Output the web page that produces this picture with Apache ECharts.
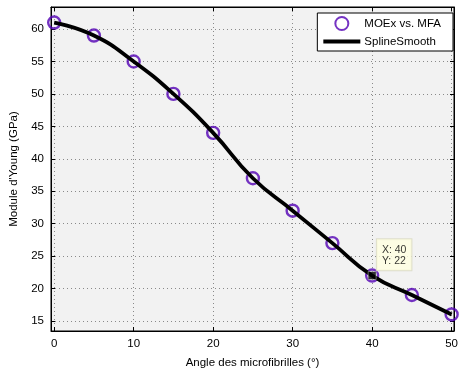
<!DOCTYPE html>
<html>
<head>
<meta charset="utf-8">
<script src="https://cdn.jsdelivr.net/npm/echarts@6/dist/echarts.min.js"></script>
<style>
html,body{margin:0;padding:0;background:#fff;}
#c{width:461px;height:374px;}
</style>
</head>
<body>
<div id="c"></div>
<script>
const angles = [0, 5, 10, 15, 20, 25, 30, 35, 40, 45, 50];
const moe = [61, 59, 55, 50, 44, 37, 32, 27, 22, 19, 16];
const tipPoint = [40, 22];
const xTicks = [0, 10, 20, 30, 40, 50];
const yTicks = [15, 20, 25, 30, 35, 40, 45, 50, 55, 60];

const pts = angles.map((a, i) => [a, moe[i]]);
const FONT = '"Liberation Sans", Arial, sans-serif';
const purple = '#5200b4';

const chart = echarts.init(document.getElementById('c'), null, {renderer: 'canvas'});

const xMin = -0.4, xMax = 50.3, yMin = 13.45, yMax = 63.4;
const gridLine = {show: true, lineStyle: {color: '#8a8a8a', type: [1, 3], width: 1}};

const axisCommon = {
  type: 'value',
  axisLine: {show: true, onZero: false, lineStyle: {color: '#000', width: 1}},
};

const lineIcon = 'path://M0,0 L0,0 M0,4.6 L37,4.6 L37,8.6 L0,8.6 Z M0,13 L0,13';

chart.setOption({
  animation: false,
  backgroundColor: '#fff',
  textStyle: {fontFamily: FONT},
  grid: {left: 48, right: 5, top: 7, bottom: 38, show: true, backgroundColor: '#f2f2f2', borderColor: '#000', borderWidth: 1},
  legend: {
    orient: 'vertical',
    right: 8, top: 13,
    itemWidth: 37, itemHeight: 13, itemGap: 4,
    padding: [3, 12, 3, 6],
    borderColor: '#000', borderWidth: 1, backgroundColor: '#fff',
    textStyle: {fontFamily: FONT, fontSize: 11.5, color: '#000', padding: [0, 0, 0, -1]},
    data: [
      {name: 'MOEx vs. MFA'},
      {name: 'SplineSmooth', icon: lineIcon, itemStyle: {color: '#000', borderWidth: 0}}
    ]
  },
  xAxis: [
    Object.assign({}, axisCommon, {
      min: xMin, max: xMax, position: 'bottom',
      splitLine: gridLine,
      axisLabel: {customValues: xTicks, fontFamily: FONT, fontSize: 11.5, color: '#000', margin: 7},
      axisTick: {show: true, inside: true, length: 4, customValues: xTicks, lineStyle: {color: '#000'}},
      name: 'Angle des microfibrilles (°)', nameLocation: 'middle', nameGap: 26,
      nameTextStyle: {fontFamily: FONT, fontSize: 11.5, color: '#000'}
    }),
    Object.assign({}, axisCommon, {
      min: xMin, max: xMax, position: 'top',
      axisLabel: {show: false},
      axisTick: {show: true, inside: true, length: 4, customValues: xTicks, lineStyle: {color: '#000'}},
      splitLine: {show: false}
    })
  ],
  yAxis: [
    Object.assign({}, axisCommon, {
      min: yMin, max: yMax, position: 'left',
      splitLine: gridLine,
      axisLabel: {customValues: yTicks, fontFamily: FONT, fontSize: 11.5, color: '#000', margin: 7},
      axisTick: {show: true, inside: true, length: 4, customValues: yTicks, lineStyle: {color: '#000'}},
      name: "Module d'Young (GPa)", nameLocation: 'middle', nameGap: 31,
      nameTextStyle: {fontFamily: FONT, fontSize: 11.5, color: '#000'}
    }),
    Object.assign({}, axisCommon, {
      min: yMin, max: yMax, position: 'right',
      axisLabel: {show: false},
      axisTick: {show: true, inside: true, length: 4, customValues: yTicks, lineStyle: {color: '#000'}},
      splitLine: {show: false}
    })
  ],
  series: [
    {
      name: 'MOEx vs. MFA', type: 'scatter', data: pts,
      symbol: 'circle', symbolSize: 12,
      itemStyle: {color: 'rgba(0,0,0,0)', borderColor: purple, borderWidth: 2.4}
    },
    {
      name: 'SplineSmooth', type: 'line', data: pts, smooth: 0.5,
      showSymbol: false, symbol: 'none',
      lineStyle: {color: '#000', width: 3.8},
      itemStyle: {color: '#000'}
    },
    {
      name: 'datatip', type: 'scatter', data: [tipPoint],
      symbol: 'rect', symbolSize: 8, z: 5,
      itemStyle: {color: '#000', borderColor: '#fff', borderWidth: 0.5},
      label: {
        show: true, position: [9, -32], align: 'left', verticalAlign: 'top',
        formatter: p => 'X: ' + p.value[0] + '\nY: ' + p.value[1],
        fontFamily: FONT, fontSize: 10.5, color: '#000', lineHeight: 11,
        backgroundColor: '#ffffe0', borderColor: '#d8d8c0', borderWidth: 1,
        padding: [5, 5, 4, 5]
      }
    }
  ]
});
</script>
</body>
</html>
